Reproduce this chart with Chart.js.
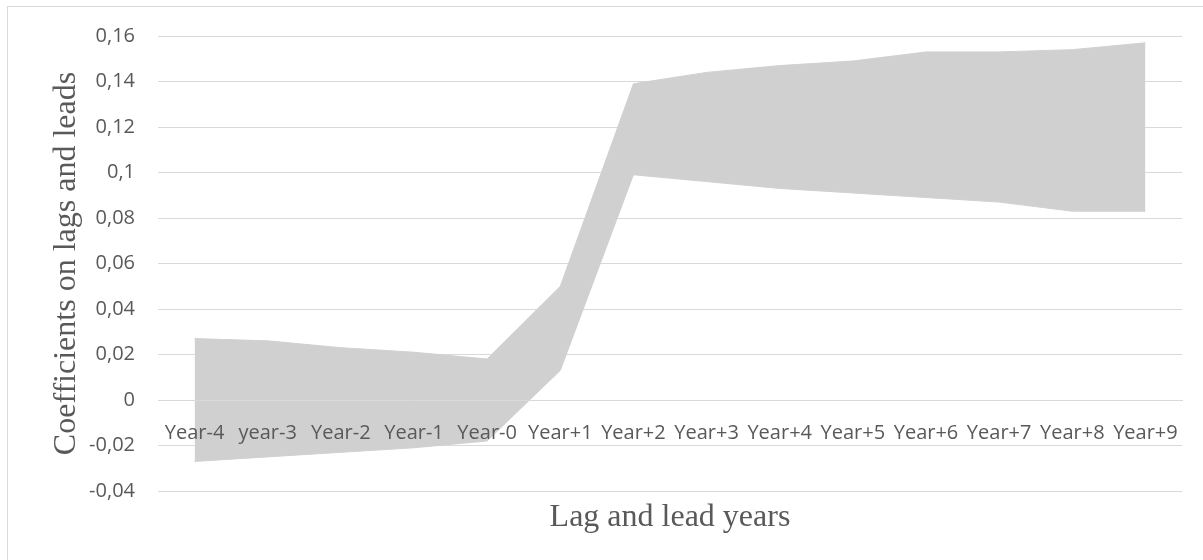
<!DOCTYPE html>
<html lang="en">
  <head>
    <meta charset="UTF-8" />
    <title>Lag and lead coefficients</title>
    <script src="https://cdn.jsdelivr.net/npm/chart.js"></script>
    <style>
      body { margin: 0; background: #fff; }
      #wrap { width: 1203px; height: 560px; }
    </style>
  </head>
  <body>
    <div id="wrap"><canvas id="myChart"></canvas></div>

    <script>
      // data
      const years = ["Year-4", "year-3", "Year-2", "Year-1", "Year-0", "Year+1", "Year+2",
                     "Year+3", "Year+4", "Year+5", "Year+6", "Year+7", "Year+8", "Year+9"];
      const lower = [-0.027, -0.025, -0.023, -0.021, -0.018, 0.013, 0.099,
                     0.096, 0.093, 0.091, 0.089, 0.087, 0.083, 0.083];
      const upper = [0.027, 0.026, 0.023, 0.021, 0.018, 0.050, 0.139,
                     0.144, 0.147, 0.149, 0.153, 0.153, 0.154, 0.157];

      const band = "rgb(208, 208, 208)";
      const textGray = "#595959";
      const lineGray = "#d9d9d9";

      // thin frame round the chart, like the spreadsheet chart box
      const frame = {
        id: "frame",
        beforeDraw(chart) {
          const ctx = chart.ctx;
          ctx.save();
          ctx.strokeStyle = lineGray;
          ctx.lineWidth = 1;
          ctx.strokeRect(7.5, 6.5, chart.width, chart.height);
          ctx.restore();
        }
      };

      const data = {
        labels: years,
        datasets: [
          {
            label: "lower",
            data: lower,
            borderColor: band,
            backgroundColor: band,
            borderWidth: 1,
            pointRadius: 0,
            fill: false,
            tension: 0
          },
          {
            label: "upper",
            data: upper,
            borderColor: band,
            backgroundColor: band,
            borderWidth: 1,
            pointRadius: 0,
            fill: "-1",
            tension: 0
          }
        ]
      };

      const config = {
        type: "line",
        data: data,
        plugins: [frame],
        options: {
          responsive: false,
          animation: false,
          layout: { padding: { left: 0, top: 36, right: 21, bottom: 69 } },
          plugins: { legend: { display: false }, tooltip: { enabled: false } },
          scales: {
            x: {
              position: { y: 0 },
              offset: true,
              grid: { display: false, drawTicks: false },
              // axis line and labels sit on top of the band
              border: { display: true, color: lineGray, width: 1, z: 1 },
              ticks: {
                z: 1,
                color: textGray,
                font: { family: "Open Sans", size: 20 },
                padding: 21,
                maxRotation: 0,
                autoSkip: false
              },
              title: {
                display: true,
                text: "Lag and lead years",
                color: textGray,
                font: { family: "Liberation Serif", size: 32 },
                padding: { top: 32, bottom: 0 }
              }
            },
            y: {
              min: -0.04,
              max: 0.16,
              afterFit(scale) { scale.width = 158; },
              grid: { color: lineGray, lineWidth: 1, drawTicks: false },
              border: { display: false },
              ticks: {
                stepSize: 0.02,
                color: textGray,
                font: { family: "Open Sans", size: 20 },
                padding: 23,
                callback: (v) => String(Math.round(v * 100) / 100).replace(".", ",")
              },
              title: {
                display: true,
                text: "Coefficients on lags and leads",
                color: textGray,
                font: { family: "Liberation Serif", size: 32 },
                padding: { top: 47, bottom: 0 }
              }
            }
          }
        }
      };

      const canvas = document.getElementById("myChart");
      canvas.width = 1203;
      canvas.height = 560;
      const myChart = new Chart(canvas, config);
    </script>
  </body>
</html>
